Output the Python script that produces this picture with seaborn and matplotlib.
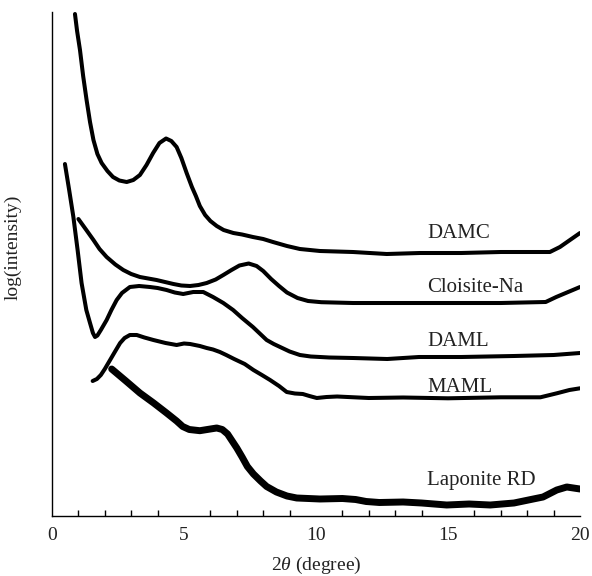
import matplotlib
matplotlib.use("Agg")
import matplotlib.pyplot as plt
import seaborn as sns
import pandas as pd
from matplotlib.ticker import MultipleLocator

# ---- data (y in arbitrary log-intensity units) ----
damc_x = [0.87, 0.95, 1.06, 1.18, 1.31, 1.44, 1.57, 1.72, 1.88, 2.1, 2.31, 2.55, 2.83, 3.08, 3.33,
          3.58, 3.83, 4.07, 4.32, 4.52, 4.72, 4.9, 5.1, 5.3, 5.45, 5.6, 5.8, 6.0, 6.24, 6.5, 6.87,
          7.2, 7.61, 8.0, 8.37, 8.9, 9.39, 10.15, 11.4, 12.68, 13.94, 15.5, 17.0, 18.86, 19.24,
          19.62, 20.0]
damc_y = [502, 485, 466, 440, 416, 394, 376, 362, 353, 345, 339, 335.5, 334, 336, 341,
          351, 363, 373, 377.5, 375, 369, 358, 343, 329, 320, 310, 301, 295, 290, 286, 283,
          281.5, 279, 277, 274, 270, 267, 265, 264, 262, 263, 263, 264, 264, 269,
          276, 283]

clo_x = [1.0, 1.3, 1.57, 1.8, 2.07, 2.4, 2.7, 3.0, 3.33, 3.96, 4.6, 4.9, 5.23, 5.55, 5.86, 6.2,
         6.49, 6.8, 7.1, 7.45, 7.75, 8.0, 8.3, 8.6, 8.9, 9.3, 9.7, 10.2, 11.4, 12.7, 13.9, 15.5,
         17.0, 18.7, 19.1, 19.55, 20.0]
clo_y = [297, 286, 276, 267, 259, 251.5, 246, 242, 239, 236, 232, 230.5, 230, 231, 233, 236.5,
         241, 246, 250.5, 252.5, 250, 245, 237, 230, 223.5, 218, 215, 213.8, 213, 213, 213, 213,
         213, 214, 219, 224, 229]

daml_x = [0.49, 0.65, 0.81, 0.97, 1.12, 1.3, 1.44, 1.55, 1.63, 1.72, 1.85, 2.07, 2.25, 2.45, 2.65,
          2.95, 3.3, 3.71, 4.0, 4.34, 4.65, 4.97, 5.35, 5.73, 6.1, 6.49, 6.86, 7.2, 7.61, 8.13,
          8.4, 8.64, 9.0, 9.39, 9.8, 10.5, 11.4, 12.7, 13.9, 15.5, 17.5, 19.0, 20.0]
daml_y = [352, 326, 299, 266, 233, 206, 193, 183, 179, 180.5, 186, 196, 206, 216, 223,
          229, 230, 229, 228, 226, 223.5, 222, 224, 224, 219, 213, 206, 198, 189, 176,
          172, 169, 164.5, 161, 159.5, 158.5, 158, 157, 159, 159, 160, 161, 163]

maml_x = [1.54, 1.7, 1.85, 2.0, 2.2, 2.4, 2.58, 2.75, 2.95, 3.21, 3.5, 3.84, 4.3, 4.72, 5.0, 5.23,
          5.6, 5.86, 6.1, 6.36, 6.6, 6.9, 7.3, 7.63, 7.95, 8.26, 8.6, 8.89, 9.2, 9.5, 9.75, 10.03,
          10.4, 10.8, 12.0, 13.3, 15.0, 17.0, 18.5, 19.12, 19.6, 20.0]
maml_y = [135, 137, 141, 147, 156, 165, 173, 178, 181, 181, 178.5, 176, 173, 171, 172.5, 172,
          170, 168, 166.5, 164, 161, 157, 152, 146, 141, 136, 130, 124, 122.5, 122, 120, 118,
          119, 119.5, 118, 118.5, 117.7, 118.7, 118.7, 122.7, 126, 127.7]

lap_x = [2.26, 2.8, 3.33, 3.85, 4.34, 4.72, 4.95, 5.2, 5.6, 6.0, 6.24, 6.45, 6.65, 6.85, 7.0, 7.2,
         7.4, 7.63, 7.9, 8.13, 8.5, 8.9, 9.27, 10.15, 11.0, 11.5, 11.9, 12.4, 13.3, 14.0, 14.95,
         15.8, 16.6, 17.5, 18.23, 18.6, 19.12, 19.5, 20.0]
lap_y = [147, 135, 123, 113, 103, 95, 89.5, 86.5, 85.3, 87, 88, 86.5, 82, 74, 68, 59,
         49.5, 42, 35, 29.5, 24, 20, 18, 17, 17.5, 16.5, 14.5, 13.5, 14, 13, 11,
         12, 11, 13, 17, 19, 26, 29, 27]

series_names = ["DAMC", "Cloisite-Na", "DAML", "MAML", "Laponite RD"]
label_x = [14.2, 14.2, 14.2, 14.2, 14.2]
label_y = [283, 228, 174, 128, 36]

xticks = [0, 5, 10, 15, 20]

# ---- style ----
sns.set_theme(style="white")
plt.rcParams["font.family"] = ["Liberation Serif", "DejaVu Serif"]
plt.rcParams["mathtext.fontset"] = "custom"
plt.rcParams["mathtext.rm"] = "Liberation Serif"
plt.rcParams["mathtext.it"] = "Liberation Serif:italic"

fig = plt.figure(figsize=(5.92, 5.76), dpi=100)
ax = fig.add_axes([52 / 592, 60 / 576, 528 / 592, 504 / 576])

data = [(damc_x, damc_y), (clo_x, clo_y), (daml_x, daml_y), (maml_x, maml_y), (lap_x, lap_y)]
widths = [2.9, 2.9, 2.9, 2.9, 5.0]
for name, (xs, ys), lw in zip(series_names, data, widths):
    df = pd.DataFrame({"x": xs, "y": ys})
    sns.lineplot(data=df, x="x", y="y", ax=ax, color="black", linewidth=lw,
                 estimator=None, sort=False, solid_joinstyle="round", solid_capstyle="round")

for name, lx, ly in zip(series_names, label_x, label_y):
    ax.text(lx, ly, name, fontsize=15, color="#222222", va="center", ha="left")

ax.set_xlim(0, 20)
ax.set_ylim(0, 504)
ax.set_xticks(xticks)
ax.set_xticklabels([str(t) for t in xticks])
ax.xaxis.set_minor_locator(MultipleLocator(1))
ax.tick_params(axis="x", which="major", direction="in", length=8, width=1.0,
               labelsize=14, pad=8, colors="black", labelcolor="#222222")
ax.tick_params(axis="x", which="minor", direction="in", length=4, width=1.0, colors="black",
               bottom=True)
ax.set_yticks([])

for side in ["top", "right"]:
    ax.spines[side].set_visible(False)
for side in ["left", "bottom"]:
    ax.spines[side].set_color("black")
    ax.spines[side].set_linewidth(1.0)

ax.set_xlabel(r"2$\mathit{\theta}$ (degree)", fontsize=14, color="#222222", labelpad=8)
ax.set_ylabel("log(intensity)", fontsize=14, color="#222222")
ax.yaxis.set_label_coords(-0.057, 0.534)

fig.savefig("out.png", dpi=100)
